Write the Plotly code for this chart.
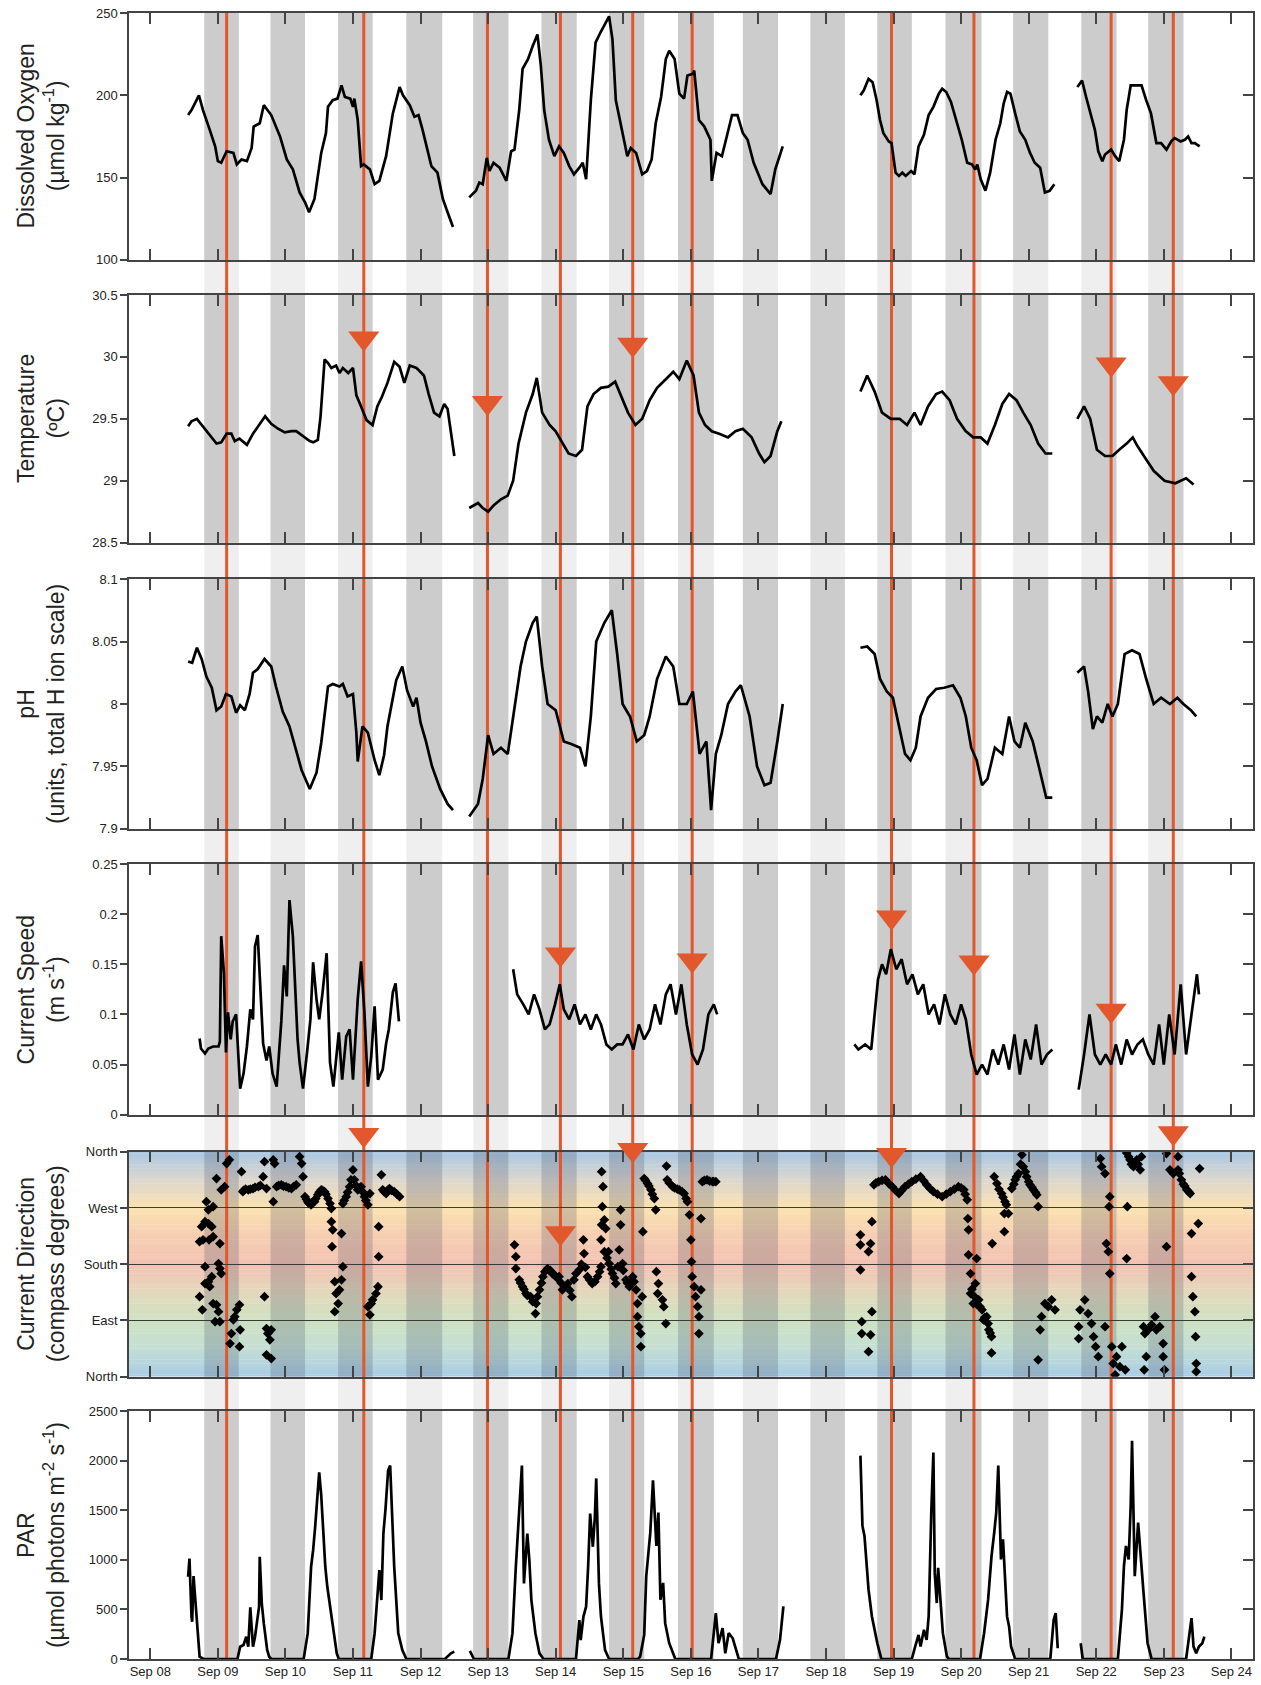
import plotly.graph_objects as go

FONT = "Liberation Sans, Arial, Helvetica, sans-serif"
ORANGE = "#E2572B"

# ---------------- axis / tick text ----------------
x_tickvals = list(range(8, 25))
x_ticktext = ["Sep %02d" % d for d in x_tickvals]
dir_tickvals = [0, 90, 180, 270, 360]
dir_ticktext = ["North", "East", "South", "West", "North"]

# night periods (day-of-September)
night_start = [8.80, 9.78, 10.78, 11.79, 12.78, 13.79, 14.79, 15.81, 16.77, 17.77, 18.76, 19.77, 20.77, 21.78, 22.77]
night_end   = [9.31, 10.29, 11.29, 12.32, 13.30, 14.31, 15.31, 16.34, 17.29, 18.28, 19.27, 20.30, 21.29, 22.30, 23.29]

# event lines and pointer triangles
event_days = [9.13, 11.16, 12.99, 14.07, 15.14, 16.02, 18.97, 20.19, 22.22, 23.14]
temp_marks  = [(11.16, 30.15), (12.99, 29.63), (15.14, 30.10), (22.22, 29.94), (23.14, 29.79)]
speed_marks = [(14.07, 0.160), (16.02, 0.154), (18.97, 0.197), (20.19, 0.152), (22.22, 0.104)]
dir_marks   = [(11.16, 387), (14.07, 230), (15.14, 363), (18.97, 355), (23.14, 390)]

# ---------------- data (day of September, value) ----------------
oxygen = [
 (8.56,188),(8.61,191),(8.72,200),(8.78,191),(8.88,179),(8.96,169),(9.00,160),(9.05,159),(9.13,166),(9.23,165),
 (9.28,158),(9.35,161),(9.43,160),(9.50,168),(9.53,181),(9.62,183),(9.68,194),(9.79,188),(9.92,175),(10.02,161),
 (10.11,155),(10.21,141),(10.29,135),(10.35,129),(10.43,137),(10.53,165),(10.60,177),(10.63,193),(10.70,197),(10.77,198),
 (10.83,206),(10.88,199),(10.96,198),(11.00,193),(11.02,198),(11.07,185),(11.12,157),(11.16,158),(11.25,155),(11.32,146),
 (11.39,148),(11.49,163),(11.59,189),(11.69,205),(11.74,200),(11.84,194),(11.91,187),(11.97,188),(12.03,179),(12.16,157),
 (12.25,153),(12.33,137),(12.40,129),(12.48,120),
 (None,None),
 (12.72,138),(12.82,142),(12.87,147),(12.92,146),(12.98,162),(13.02,154),(13.08,159),(13.17,156),(13.27,148),(13.34,166),
 (13.39,167),(13.46,191),(13.51,216),(13.59,222),(13.66,230),(13.73,237),(13.78,218),(13.83,191),(13.90,173),(13.98,163),
 (14.05,169),(14.12,165),(14.20,157),(14.27,152),(14.35,156),(14.40,159),(14.45,149),(14.52,197),(14.59,232),(14.66,238),
 (14.79,248),(14.84,234),(14.89,197),(14.99,177),(15.06,163),(15.11,168),(15.19,165),(15.28,152),(15.35,154),(15.42,161),
 (15.48,183),(15.56,199),(15.63,222),(15.68,227),(15.76,222),(15.83,201),(15.90,198),(15.95,212),(16.03,213),(16.05,215),
 (16.12,185),(16.20,181),(16.29,173),(16.31,148),(16.38,165),(16.46,163),(16.54,177),(16.61,188),(16.69,188),(16.77,177),
 (16.84,173),(16.93,159),(17.06,146),(17.18,140),(17.25,155),(17.36,169),
 (None,None),
 (18.51,200),(18.56,203),(18.63,210),(18.69,208),(18.75,197),(18.80,185),(18.85,177),(18.93,172),(18.97,171),(19.03,153),
 (19.08,151),(19.13,153),(19.18,151),(19.26,154),(19.31,152),(19.37,169),(19.45,176),(19.52,188),(19.59,193),(19.67,201),
 (19.72,204),(19.78,202),(19.85,196),(19.94,183),(20.01,173),(20.09,159),(20.16,158),(20.21,155),(20.24,158),(20.29,149),
 (20.36,142),(20.43,153),(20.51,173),(20.58,183),(20.63,195),(20.68,202),(20.73,201),(20.80,189),(20.87,178),(20.95,173),
 (21.02,165),(21.09,159),(21.17,156),(21.24,141),(21.31,142),(21.38,146),
 (None,None),
 (21.72,205),(21.79,209),(21.85,199),(21.93,187),(21.98,179),(22.03,166),(22.09,160),(22.13,164),(22.22,167),(22.28,163),
 (22.34,160),(22.41,173),(22.45,191),(22.51,206),(22.60,206),(22.67,206),(22.74,197),(22.81,189),(22.89,171),(22.96,171),
 (23.04,167),(23.11,172),(23.16,174),(23.25,172),(23.31,173),(23.36,175),(23.41,171),(23.46,171),(23.53,169),
]

temperature = [
 (8.56,29.44),(8.61,29.48),(8.69,29.50),(8.78,29.44),(8.88,29.37),(8.98,29.30),(9.05,29.31),(9.13,29.38),(9.20,29.38),(9.25,29.32),
 (9.32,29.34),(9.43,29.29),(9.52,29.38),(9.62,29.46),(9.70,29.52),(9.79,29.46),(9.89,29.42),(9.99,29.39),(10.09,29.40),(10.16,29.40),
 (10.26,29.36),(10.36,29.32),(10.41,29.31),(10.48,29.33),(10.52,29.52),(10.58,29.98),(10.63,29.95),(10.68,29.91),(10.75,29.93),(10.80,29.87),
 (10.85,29.91),(10.93,29.87),(11.00,29.91),(11.05,29.69),(11.12,29.60),(11.20,29.49),(11.29,29.45),(11.36,29.60),(11.43,29.68),(11.51,29.79),
 (11.61,29.96),(11.69,29.92),(11.76,29.79),(11.84,29.93),(11.94,29.91),(12.05,29.85),(12.12,29.70),(12.20,29.55),(12.28,29.52),(12.35,29.62),
 (12.40,29.58),(12.45,29.40),(12.50,29.20),
 (None,None),
 (12.72,28.78),(12.85,28.82),(12.92,28.78),(13.00,28.75),(13.08,28.80),(13.19,28.85),(13.29,28.88),(13.37,29.00),(13.45,29.30),(13.56,29.55),
 (13.66,29.70),(13.72,29.83),(13.80,29.55),(13.91,29.45),(14.00,29.40),(14.10,29.30),(14.19,29.22),(14.30,29.20),(14.39,29.25),(14.47,29.60),
 (14.56,29.70),(14.67,29.75),(14.78,29.76),(14.88,29.80),(14.96,29.70),(15.07,29.55),(15.18,29.45),(15.28,29.50),(15.39,29.65),(15.50,29.75),
 (15.63,29.82),(15.74,29.88),(15.83,29.82),(15.94,29.97),(16.04,29.85),(16.12,29.55),(16.21,29.45),(16.31,29.40),(16.42,29.38),(16.55,29.35),
 (16.66,29.40),(16.77,29.42),(16.90,29.35),(17.01,29.22),(17.09,29.15),(17.18,29.20),(17.28,29.40),(17.34,29.48),
 (None,None),
 (18.51,29.72),(18.61,29.85),(18.72,29.72),(18.83,29.55),(18.96,29.50),(19.09,29.50),(19.20,29.45),(19.31,29.55),(19.40,29.45),(19.51,29.60),
 (19.63,29.70),(19.72,29.72),(19.83,29.65),(19.94,29.50),(20.07,29.40),(20.18,29.35),(20.29,29.35),(20.39,29.30),(20.50,29.45),(20.61,29.62),
 (20.71,29.70),(20.82,29.65),(20.92,29.55),(21.03,29.45),(21.14,29.30),(21.25,29.22),(21.35,29.22),
 (None,None),
 (21.72,29.50),(21.82,29.60),(21.91,29.50),(22.01,29.25),(22.13,29.20),(22.24,29.20),(22.34,29.25),(22.45,29.30),(22.54,29.35),(22.61,29.28),
 (22.73,29.18),(22.85,29.08),(23.01,29.00),(23.17,28.98),(23.33,29.02),(23.44,28.97),
]

ph = [
 (8.56,8.034),(8.62,8.033),(8.69,8.045),(8.76,8.036),(8.83,8.022),(8.91,8.013),(8.98,7.995),(9.05,7.998),(9.12,8.008),(9.20,8.006),
 (9.27,7.993),(9.33,7.999),(9.40,7.995),(9.47,8.008),(9.52,8.025),(9.59,8.028),(9.69,8.036),(9.79,8.030),(9.86,8.014),(9.96,7.994),
 (10.06,7.982),(10.16,7.963),(10.24,7.947),(10.36,7.932),(10.46,7.945),(10.53,7.969),(10.63,8.014),(10.70,8.016),(10.80,8.014),(10.85,8.016),
 (10.92,8.006),(11.00,8.008),(11.05,7.977),(11.07,7.954),(11.14,7.982),(11.22,7.977),(11.32,7.955),(11.39,7.943),(11.46,7.959),(11.51,7.982),
 (11.64,8.019),(11.73,8.030),(11.80,8.011),(11.89,7.998),(11.94,8.005),(12.00,7.985),(12.08,7.970),(12.17,7.950),(12.29,7.932),(12.40,7.920),
 (12.48,7.915),
 (None,None),
 (12.72,7.910),(12.85,7.920),(12.92,7.940),(13.00,7.975),(13.08,7.960),(13.19,7.965),(13.29,7.960),(13.37,7.990),(13.48,8.030),(13.56,8.050),
 (13.66,8.065),(13.72,8.070),(13.80,8.030),(13.88,8.000),(14.00,7.995),(14.12,7.970),(14.23,7.968),(14.36,7.965),(14.44,7.950),(14.52,7.990),
 (14.60,8.050),(14.72,8.065),(14.83,8.075),(14.91,8.040),(14.99,8.000),(15.10,7.990),(15.20,7.970),(15.31,7.975),(15.39,7.990),(15.50,8.020),
 (15.63,8.038),(15.74,8.030),(15.83,8.000),(15.94,8.000),(16.03,8.010),(16.13,7.960),(16.23,7.970),(16.30,7.915),(16.37,7.960),(16.45,7.975),
 (16.55,8.000),(16.66,8.010),(16.74,8.015),(16.87,7.990),(16.98,7.950),(17.09,7.935),(17.18,7.937),(17.28,7.970),(17.36,8.000),
 (None,None),
 (18.51,8.045),(18.61,8.046),(18.72,8.040),(18.80,8.020),(18.90,8.010),(18.99,8.005),(19.09,7.980),(19.17,7.960),(19.25,7.955),(19.33,7.965),
 (19.40,7.990),(19.51,8.005),(19.63,8.012),(19.75,8.013),(19.88,8.015),(19.99,8.005),(20.07,7.990),(20.15,7.965),(20.23,7.955),(20.31,7.935),
 (20.39,7.940),(20.50,7.965),(20.61,7.960),(20.71,7.990),(20.79,7.970),(20.87,7.965),(20.95,7.985),(21.06,7.970),(21.15,7.950),(21.26,7.925),
 (21.35,7.925),
 (None,None),
 (21.72,8.025),(21.82,8.030),(21.88,8.010),(21.95,7.980),(22.01,7.990),(22.09,7.985),(22.17,8.000),(22.24,7.990),(22.32,8.000),(22.42,8.040),
 (22.53,8.043),(22.64,8.040),(22.74,8.020),(22.85,8.000),(22.96,8.005),(23.09,8.000),(23.20,8.005),(23.29,8.000),(23.40,7.995),(23.48,7.990),
]

speed = [
 (8.73,0.076),(8.75,0.066),(8.81,0.061),(8.86,0.066),(8.93,0.068),(9.01,0.068),(9.03,0.073),(9.05,0.178),(9.09,0.141),(9.12,0.062),
 (9.15,0.102),(9.19,0.075),(9.22,0.093),(9.27,0.100),(9.33,0.026),(9.38,0.041),(9.43,0.068),(9.48,0.105),(9.52,0.095),(9.55,0.168),
 (9.59,0.179),(9.62,0.141),(9.67,0.071),(9.72,0.054),(9.76,0.068),(9.81,0.041),(9.87,0.028),(9.94,0.094),(9.98,0.149),(10.02,0.118),
 (10.06,0.214),(10.11,0.178),(10.18,0.075),(10.21,0.052),(10.26,0.026),(10.32,0.062),(10.37,0.095),(10.41,0.152),(10.46,0.115),(10.50,0.095),
 (10.55,0.122),(10.61,0.161),(10.66,0.052),(10.71,0.028),(10.76,0.062),(10.79,0.082),(10.84,0.035),(10.90,0.078),(10.95,0.085),(11.00,0.035),
 (11.07,0.115),(11.12,0.153),(11.17,0.101),(11.22,0.028),(11.27,0.058),(11.32,0.108),(11.37,0.035),(11.44,0.045),(11.49,0.071),(11.53,0.085),
 (11.59,0.122),(11.63,0.131),(11.68,0.093),
 (None,None),
 (13.37,0.145),(13.43,0.120),(13.52,0.110),(13.60,0.100),(13.68,0.120),(13.76,0.105),(13.84,0.085),(13.91,0.090),(13.99,0.110),(14.06,0.130),
 (14.12,0.105),(14.20,0.095),(14.28,0.110),(14.36,0.090),(14.44,0.100),(14.52,0.085),(14.60,0.100),(14.67,0.090),(14.75,0.070),(14.83,0.065),
 (14.91,0.070),(14.99,0.070),(15.07,0.080),(15.15,0.065),(15.23,0.090),(15.31,0.075),(15.39,0.085),(15.47,0.110),(15.55,0.090),(15.63,0.120),
 (15.70,0.130),(15.78,0.100),(15.86,0.130),(15.94,0.090),(16.02,0.060),(16.10,0.050),(16.18,0.065),(16.26,0.100),(16.34,0.110),(16.39,0.100),
 (None,None),
 (18.42,0.070),(18.48,0.065),(18.58,0.070),(18.67,0.065),(18.77,0.135),(18.83,0.150),(18.89,0.140),(18.96,0.165),(19.04,0.145),(19.12,0.155),
 (19.20,0.130),(19.28,0.140),(19.36,0.120),(19.44,0.130),(19.52,0.100),(19.60,0.110),(19.68,0.090),(19.76,0.120),(19.84,0.100),(19.92,0.090),
 (20.00,0.110),(20.07,0.095),(20.15,0.060),(20.23,0.040),(20.31,0.050),(20.39,0.040),(20.47,0.065),(20.55,0.050),(20.63,0.070),(20.71,0.045),
 (20.79,0.080),(20.87,0.040),(20.95,0.075),(21.03,0.055),(21.11,0.090),(21.19,0.050),(21.27,0.060),(21.35,0.065),
 (None,None),
 (21.74,0.025),(21.82,0.060),(21.90,0.100),(21.98,0.060),(22.06,0.050),(22.14,0.060),(22.22,0.050),(22.29,0.070),(22.37,0.050),(22.45,0.075),
 (22.53,0.060),(22.61,0.070),(22.69,0.075),(22.77,0.060),(22.85,0.050),(22.93,0.090),(23.00,0.050),(23.08,0.100),(23.16,0.060),(23.25,0.130),
 (23.33,0.060),(23.41,0.100),(23.49,0.140),(23.52,0.120),
]

direction = [
 (8.83,280),(8.86,267),(8.93,272),(8.76,240),(8.81,248),(8.86,245),(8.91,240),(8.73,216),(8.78,219),(8.87,219),
 (8.93,224),(9.03,213),(8.81,176),(9.01,181),(9.03,173),(9.05,165),(8.81,149),(8.86,152),(8.91,160),(8.88,144),
 (8.73,128),(8.77,107),(8.93,117),(8.98,115),(9.01,104),(8.96,88),(9.03,88),(8.98,317),(9.05,299),(9.10,304),
 (9.13,341),(9.17,347),(9.18,53),(9.20,69),(9.23,91),(9.25,96),(9.28,107),(9.32,115),(9.32,48),(9.33,75),
 (9.35,328),(9.37,296),(9.45,299),(9.52,301),(9.60,304),(9.67,320),(9.69,344),(9.72,301),(9.69,128),(9.72,77),
 (9.74,69),(9.77,59),(9.79,75),(9.72,35),(9.79,29),(9.82,347),(9.84,341),(9.82,280),(9.87,304),(9.94,307),
 (10.01,304),(10.09,301),(10.16,307),(10.21,352),(10.24,341),(10.26,320),(10.29,288),(10.33,280),(10.38,275),(10.43,280),
 (10.48,291),(10.53,299),(10.58,296),(10.63,285),(10.68,269),(10.68,248),(10.70,235),(10.69,208),(10.83,229),(10.85,176),
 (10.73,152),(10.75,133),(10.78,117),(10.80,139),(10.83,155),(10.73,104),(10.85,277),(10.90,288),(10.95,304),(11.00,331),
 (11.02,315),(11.07,299),(11.12,304),(11.17,288),(11.22,275),(11.25,293),(11.22,112),(11.25,99),(11.27,117),(11.29,123),
 (11.34,133),(11.37,144),(11.38,240),(11.38,192),(11.42,323),(11.44,299),(11.49,293),(11.54,301),(11.61,296),(11.69,288),
 (9.38,298),(9.41,300),(9.48,300),(9.55,303),(9.63,306),(9.90,306),(9.97,305),(10.05,302),(10.12,304),(10.31,284),
 (10.35,277),(10.40,278),(10.45,285),(10.50,295),(10.55,298),(10.60,292),(10.66,277),(10.87,282),(10.92,295),(10.97,315),
 (11.04,306),(11.09,302),(11.14,296),(11.19,282),(11.46,296),(11.51,298),(11.57,298),(11.65,292),
 (13.39,211),(13.41,192),(13.41,173),(13.46,155),(13.51,144),(13.56,133),(13.63,128),(13.70,101),(13.71,117),(13.76,139),
 (13.81,160),(13.88,173),(13.95,165),(14.05,160),(14.10,139),(14.18,149),(14.24,128),(14.27,155),(14.35,171),(14.41,219),
 (14.42,197),(14.47,160),(14.54,149),(14.62,160),(14.67,176),(14.68,328),(14.70,304),(14.69,272),(14.72,251),(14.68,243),
 (14.74,237),(14.67,219),(14.78,200),(14.79,181),(14.84,165),(14.89,149),(14.94,203),(14.96,267),(14.96,243),(14.99,181),
 (15.04,155),(15.09,144),(15.14,160),(15.19,139),(15.21,117),(15.21,96),(15.23,80),(15.26,69),(15.26,48),(15.28,128),
 (15.29,232),(15.31,317),(15.36,309),(15.41,299),(15.46,285),(15.48,267),(15.49,168),(15.52,149),(15.51,133),(15.58,123),
 (15.60,112),(15.63,85),(15.64,337),(15.65,315),(15.73,304),(15.83,299),(15.90,293),(15.95,280),(15.98,259),(16.00,219),
 (16.01,184),(16.02,160),(16.05,144),(16.07,128),(16.10,112),(16.12,96),(16.12,69),(16.15,253),(16.15,139),(16.17,312),
 (16.24,315),(16.32,312),(16.37,312),
 (13.48,150),(13.53,140),(13.58,130),(13.66,120),(13.73,128),(13.79,150),(13.84,168),(13.92,170),(13.99,162),(14.02,158),
 (14.08,150),(14.14,145),(14.21,138),(14.30,165),(14.38,180),(14.44,175),(14.50,155),(14.58,152),(14.65,168),(14.72,200),
 (14.76,190),(14.82,172),(14.87,158),(14.92,176),(15.00,170),(15.06,150),(15.11,150),(15.16,152),(15.33,314),(15.38,305),
 (15.43,292),(15.68,310),(15.76,302),(15.80,300),(15.87,296),(15.93,285),(16.20,314),(16.28,313),(16.34,312),
 (18.51,227),(18.51,211),(18.51,171),(18.53,88),(18.53,69),(18.63,40),(18.63,200),(18.66,213),(18.68,248),(18.68,104),
 (18.66,67),(18.71,307),(18.78,312),(18.88,315),(18.98,304),(19.08,293),(19.17,304),(19.27,312),(19.40,320),(19.49,307),
 (19.59,296),(19.72,288),(19.84,296),(19.96,304),(20.04,299),(20.09,283),(20.10,253),(20.11,235),(20.11,195),(20.14,165),
 (20.14,133),(20.18,117),(20.21,149),(20.23,189),(20.26,123),(20.31,107),(20.33,91),(20.38,96),(20.41,75),(20.45,64),
 (20.45,38),(20.46,213),(20.49,320),(20.53,309),(20.60,293),(20.65,280),(20.64,261),(20.64,232),(20.70,261),(20.75,301),
 (20.80,315),(20.85,325),(20.90,355),(20.92,336),(20.97,320),(21.02,307),(21.07,299),(21.12,291),(21.14,272),(21.14,27),
 (21.17,75),(21.19,96),(21.24,117),(21.29,112),(21.34,123),(21.39,107),
 (18.74,310),(18.83,314),(18.93,309),(19.03,298),(19.12,298),(19.22,308),(19.33,316),(19.45,313),(19.54,301),(19.65,292),
 (19.78,292),(19.90,300),(20.00,302),(20.06,292),(20.56,300),(20.62,287),(20.67,275),(20.78,308),(20.82,320),(20.88,340),
 (20.95,328),(21.00,312),(21.05,303),(21.10,295),(20.16,140),(20.20,128),(20.24,115),(20.28,112),(20.35,95),(20.40,85),
 (20.43,70),
 (21.74,80),(21.74,61),(21.76,107),(21.83,123),(21.88,101),(21.93,85),(21.96,64),(21.99,48),(22.03,32),(22.06,349),
 (22.08,336),(22.13,325),(22.15,213),(22.13,80),(22.20,288),(22.19,272),(22.18,200),(22.20,165),(22.23,48),(22.25,21),
 (22.28,3),(22.30,32),(22.35,16),(22.38,48),(22.43,11),(22.45,358),(22.50,347),(22.55,336),(22.60,347),(22.65,331),
 (22.67,352),(22.45,189),(22.46,272),(22.70,80),(22.72,69),(22.74,32),(22.71,11),(22.77,75),(22.82,83),(22.87,96),
 (22.89,75),(22.94,80),(22.99,53),(22.99,32),(23.01,11),(23.04,208),(23.04,357),(23.09,331),(23.14,325),(23.21,352),
 (23.21,331),(23.26,315),(23.34,299),(23.39,293),(23.41,229),(23.51,245),(23.41,160),(23.43,128),(23.46,104),(23.47,64),
 (23.48,21),(23.48,8),(23.53,333),
 (22.48,352),(22.52,340),(22.57,342),(22.62,340),(23.23,325),(23.29,308),(23.31,305),(23.37,296),
]

par = [
 (8.56,829),(8.58,1013),(8.61,426),(8.62,376),(8.64,836),(8.67,594),(8.73,23),(8.79,0),
 (9.29,0),(9.33,124),(9.38,141),(9.42,225),(9.45,124),(9.48,520),(9.52,124),(9.55,225),(9.58,359),(9.61,527),(9.62,1030),(9.65,560),(9.68,359),(9.73,91),(9.76,23),(9.79,0),
 (10.27,0),(10.33,258),(10.38,930),(10.41,1097),(10.44,1332),(10.47,1567),(10.50,1880),(10.53,1650),(10.56,1300),(10.59,930),(10.62,728),(10.67,493),(10.72,258),(10.76,57),(10.79,0),
 (11.27,0),(11.32,258),(11.36,594),(11.39,896),(11.42,594),(11.45,1265),(11.48,1500),(11.52,1900),(11.55,1950),(11.58,1500),(11.61,930),(11.67,258),(11.73,91),(11.79,0),
 (12.36,0),(12.45,57),(12.50,74),
 (None,None),
 (12.73,81),(12.79,0),(13.30,0),(13.36,258),(13.41,930),(13.45,1433),(13.50,1950),(13.53,762),(13.58,1265),(13.61,997),(13.64,594),(13.70,258),(13.76,57),(13.82,0),
 (14.30,0),(14.35,393),(14.37,191),(14.41,426),(14.45,527),(14.48,930),(14.51,1466),(14.55,1131),(14.58,1433),(14.60,1820),(14.64,762),(14.67,426),(14.73,91),(14.79,0),
 (15.22,0),(15.25,24),(15.31,243),(15.34,834),(15.40,1274),(15.44,1800),(15.49,1139),(15.52,1476),(15.55,598),(15.59,767),(15.62,361),(15.68,159),(15.77,0),
 (16.30,0),(16.37,463),(16.41,159),(16.47,311),(16.51,57),(16.56,260),(16.62,209),(16.68,57),(16.71,0),(17.26,0),(17.32,193),(17.37,530),
 (None,None),
 (18.51,2050),(18.54,1341),(18.57,1240),(18.60,936),(18.63,699),(18.68,429),(18.76,159),(18.82,0),
 (19.27,0),(19.32,125),(19.37,243),(19.40,125),(19.45,294),(19.49,193),(19.52,429),(19.56,1510),(19.59,2080),(19.61,868),(19.64,564),(19.66,919),(19.70,497),(19.73,260),(19.79,24),(19.82,0),
 (20.28,0),(20.34,260),(20.40,598),(20.45,1037),(20.49,1274),(20.52,1476),(20.55,1950),(20.59,1003),(20.62,1206),(20.65,834),(20.68,429),(20.71,328),(20.74,125),(20.80,0),
 (21.32,0),(21.37,395),(21.40,463),(21.43,108),
 (None,None),
 (21.77,159),(21.80,0),(22.32,0),(22.38,497),(22.41,936),(22.44,1139),(22.48,1003),(22.51,1544),(22.53,2200),(22.57,834),(22.62,1375),(22.65,1139),(22.70,666),(22.76,159),(22.82,0),
 (23.33,0),(23.38,260),(23.41,412),(23.44,125),(23.48,57),(23.52,125),(23.57,159),(23.60,226),
]

# ---------------- layout geometry (styling) ----------------
W, H = 1261, 1685
ML, MR, MT, MB = 129, 6, 13, 26
XRANGE = [7.685, 24.32]
domains = [[0.850, 1.0], [0.6782, 0.8287], [0.5043, 0.6561], [0.3307, 0.4830], [0.1715, 0.3082], [0.0, 0.1507]]
yranges = [[100, 250], [28.5, 30.5], [7.9, 8.1], [0, 0.25], [0, 360], [0, 2500]]
ytickvals = [
    [100, 150, 200, 250],
    [28.5, 29, 29.5, 30, 30.5],
    [7.9, 7.95, 8.0, 8.05, 8.1],
    [0, 0.05, 0.1, 0.15, 0.2, 0.25],
    dir_tickvals,
    [0, 500, 1000, 1500, 2000, 2500],
]
yticktext = [
    ["100", "150", "200", "250"],
    ["28.5", "29", "29.5", "30", "30.5"],
    ["7.9", "7.95", "8", "8.05", "8.1"],
    ["0", "0.05", "0.1", "0.15", "0.2", "0.25"],
    dir_ticktext,
    ["0", "500", "1000", "1500", "2000", "2500"],
]
titles = [
    "Dissolved Oxygen<br>(µmol kg<sup>-1</sup>)",
    "Temperature<br>(ºC)",
    "pH<br>(units, total H ion scale)",
    "Current Speed<br>(m s<sup>-1</sup>)",
    "Current Direction<br>(compass degrees)",
    "PAR<br>(µmol photons m<sup>-2</sup> s<sup>-1</sup>)",
]

# taller helper axis for the direction pointers (same degrees-per-pixel scale as the direction panel)
d5 = domains[4]
deg_per_paper = 360.0 / (d5[1] - d5[0])
ptr_domain = [d5[0], 0.3300]
ptr_range = [0, (ptr_domain[1] - ptr_domain[0]) * deg_per_paper]

fig = go.Figure()

def split(points):
    return [p[0] for p in points], [p[1] for p in points]

line_series = [(oxygen, 1), (temperature, 2), (ph, 3), (speed, 4), (par, 6)]
for pts, k in line_series:
    xs, ys = split(pts)
    fig.add_trace(go.Scatter(x=xs, y=ys, mode="lines", line=dict(color="black", width=2.7),
                             xaxis="x" if k == 1 else "x%d" % k, yaxis="y" if k == 1 else "y%d" % k,
                             connectgaps=False, hoverinfo="skip"))

dx, dy = split(direction)
fig.add_trace(go.Scatter(x=dx, y=dy, mode="markers", xaxis="x5", yaxis="y5",
                         marker=dict(symbol="diamond", size=7.5, color="black", line=dict(width=0)),
                         hoverinfo="skip"))

for marks, xa, ya in [(temp_marks, "x2", "y2"), (speed_marks, "x4", "y4"), (dir_marks, "x5", "y13")]:
    mx, my = split(marks)
    fig.add_trace(go.Scatter(x=mx, y=my, mode="markers", xaxis=xa, yaxis=ya,
                             marker=dict(symbol="triangle-down", size=27, color=ORANGE, line=dict(width=0)),
                             cliponaxis=False, hoverinfo="skip"))

# dummy traces to show inside ticks on the right edge of each panel
for k in range(1, 7):
    fig.add_trace(go.Scatter(x=[None], y=[None], mode="markers", showlegend=False,
                             xaxis="x" if k == 1 else "x%d" % k, yaxis="y%d" % (k + 6), hoverinfo="skip"))

layout = dict(
    width=W, height=H, margin=dict(l=ML, r=MR, t=MT, b=MB),
    paper_bgcolor="white", plot_bgcolor="rgba(0,0,0,0)",
    showlegend=False, font=dict(family=FONT, size=13, color="#222"),
)

AXCOL = "#444"
for k in range(1, 7):
    xname = "xaxis" if k == 1 else "xaxis%d" % k
    yname = "yaxis" if k == 1 else "yaxis%d" % k
    layout[xname] = dict(
        domain=[0, 1], range=XRANGE, anchor="y" if k == 1 else "y%d" % k,
        tickvals=x_tickvals, ticktext=x_ticktext, showticklabels=(k == 6),
        ticks="inside", ticklen=11, tickwidth=1.5, tickcolor=AXCOL,
        showline=True, linecolor=AXCOL, linewidth=1.5, mirror="ticks",
        showgrid=False, zeroline=False, tickfont=dict(size=13, color="#222"),
    )
    if k > 1:
        layout[xname]["matches"] = "x"
    ya = dict(
        domain=domains[k - 1], range=yranges[k - 1], anchor="x" if k == 1 else "x%d" % k,
        tickvals=ytickvals[k - 1], ticktext=yticktext[k - 1],
        ticks="outside", ticklen=7, tickwidth=1.5, tickcolor=AXCOL,
        showline=True, linecolor=AXCOL, linewidth=1.5, mirror=True,
        showgrid=False, zeroline=False, tickfont=dict(size=13, color="#222"),
    )
    if k == 5:
        ya.update(showgrid=True, gridcolor="#3a3a3a", gridwidth=1)
    layout[yname] = ya
    layout["yaxis%d" % (k + 6)] = dict(
        overlaying="y" if k == 1 else "y%d" % k, side="right",
        anchor="x" if k == 1 else "x%d" % k, range=yranges[k - 1],
        tickvals=ytickvals[k - 1], showticklabels=False,
        ticks="inside", ticklen=10, tickwidth=1.5, tickcolor=AXCOL,
        showline=False, showgrid=False, zeroline=False,
    )
layout["yaxis13"] = dict(domain=ptr_domain, range=ptr_range, anchor="x5", visible=False,
                         showgrid=False, zeroline=False)

# ---------------- shapes ----------------
shapes = []
for s, e in zip(night_start, night_end):
    shapes.append(dict(type="rect", xref="x", yref="paper", x0=s, x1=e, y0=0, y1=1,
                       fillcolor="#efefef", line=dict(width=0), layer="below"))
for k in [1, 2, 3, 4, 6]:
    d0, d1 = domains[k - 1]
    for s, e in zip(night_start, night_end):
        shapes.append(dict(type="rect", xref="x", yref="paper", x0=s, x1=e, y0=d0, y1=d1,
                           fillcolor="#cccccc", line=dict(width=0), layer="below"))
grad_stops = [(0, (168, 204, 229)), (45, (196, 222, 212)), (90, (206, 226, 194)), (135, (228, 216, 188)),
              (180, (243, 194, 178)), (225, (246, 206, 178)), (270, (251, 226, 176)), (315, (220, 214, 206)),
              (360, (170, 200, 226))]

def grad_color(v):
    for (a, ca), (b, cb) in zip(grad_stops[:-1], grad_stops[1:]):
        if a <= v <= b:
            t = (v - a) / (b - a)
            c = [round(ca[i] + (cb[i] - ca[i]) * t) for i in range(3)]
            return "rgb(%d,%d,%d)" % tuple(c)
    return "rgb(%d,%d,%d)" % grad_stops[-1][1]

step = 3
for lo in range(0, 360, step):
    shapes.append(dict(type="rect", xref="paper", yref="y5", x0=0, x1=1, y0=lo, y1=min(lo + step + 0.6, 360),
                       fillcolor=grad_color(lo + step / 2), line=dict(width=0), layer="below"))
d0, d1 = domains[4]
for s, e in zip(night_start, night_end):
    shapes.append(dict(type="rect", xref="x", yref="paper", x0=s, x1=e, y0=d0, y1=d1,
                       fillcolor="rgba(45,55,85,0.2)", line=dict(width=0), layer="below"))
for d in event_days:
    shapes.append(dict(type="line", xref="x", yref="paper", x0=d, x1=d, y0=0, y1=1,
                       line=dict(color=ORANGE, width=3), layer="below"))
layout["shapes"] = shapes

annotations = []
for k in range(6):
    d0, d1 = domains[k]
    annotations.append(dict(text=titles[k], xref="paper", yref="paper", x=-0.0782, y=(d0 + d1) / 2,
                            xanchor="center", yanchor="middle", textangle=-90, showarrow=False,
                            font=dict(family=FONT, size=23, color="#222")))
layout["annotations"] = annotations

fig.update_layout(**layout)
fig.write_html("out.html", config={"displayModeBar": False},
               post_script="document.body.style.margin='0';document.body.style.overflow='hidden';")
